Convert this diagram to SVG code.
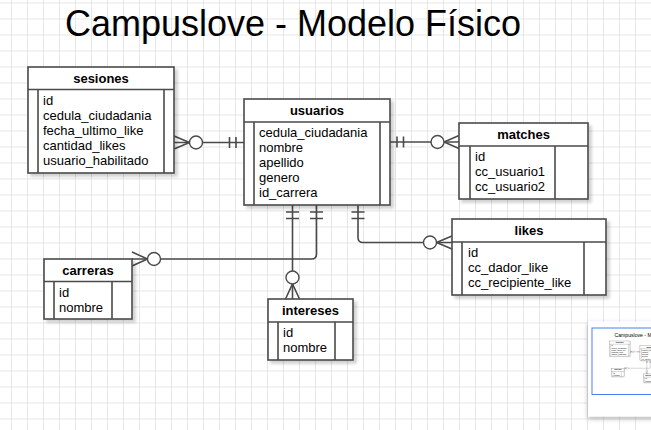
<svg xmlns="http://www.w3.org/2000/svg" xmlns:xlink="http://www.w3.org/1999/xlink" width="651" height="430" viewBox="0 0 651 430">
<style>
.box{fill:#ffffff;stroke:#4a4a4a;stroke-width:1.6}
.ln{fill:none;stroke:#4a4a4a;stroke-width:1.6}
.cl{fill:#ffffff;stroke:#4a4a4a;stroke-width:1.4}
.hd{font-family:"Liberation Sans",Arial,sans-serif;font-size:13px;font-weight:bold;fill:#000;text-anchor:middle}
.rw{font-family:"Liberation Sans",Arial,sans-serif;font-size:13px;fill:#000}
.ttl{font-family:"Liberation Sans",Arial,sans-serif;font-size:36px;fill:#000;text-anchor:middle}
</style>
<defs>
<pattern id="grid" patternUnits="userSpaceOnUse" x="11" y="2.5" width="16" height="16">
<path d="M0.5 0V16M0 0.5H16" stroke="#e6e6e6" stroke-width="1" fill="none"/>
</pattern>
<filter id="sh" x="-10%" y="-10%" width="130%" height="130%">
<feDropShadow dx="3" dy="3" stdDeviation="1.5" flood-color="#000" flood-opacity="0.18"/>
</filter>
<filter id="psh" x="-20%" y="-20%" width="140%" height="140%">
<feDropShadow dx="0" dy="2" stdDeviation="2.5" flood-color="#000" flood-opacity="0.3"/>
</filter>
<clipPath id="mini"><rect x="588" y="321.5" width="63" height="95"/></clipPath>
</defs>
<rect width="651" height="430" fill="#ffffff"/>
<rect width="651" height="430" fill="url(#grid)"/>
<g id="content">
<text class="ttl" x="293" y="36">Campuslove - Modelo Físico</text>
<g id="connectors">
<path class="ln" d="M174 142.5H244"/>
<path class="ln" d="M174 136L189.5 142.5L174 149M229.5 137V148M236 137V148"/>
<circle class="cl" cx="196" cy="142.5" r="6.5"/>
<path class="ln" d="M390 142H459"/>
<path class="ln" d="M397 136.5V147.5M403.5 136.5V147.5M459 135.5L444 142L459 148.5"/>
<circle class="cl" cx="437.5" cy="142" r="6.5"/>
<path class="ln" d="M316.5 205V254Q316.5 259 311.5 259H132"/>
<path class="ln" d="M310 212H323M310 218.5H323M132 252L147.5 259L132 266"/>
<circle class="cl" cx="154" cy="259" r="6.5"/>
<path class="ln" d="M292.5 205V299"/>
<path class="ln" d="M286 212H299M286 218.5H299M285.5 299L292.5 284L299.5 299"/>
<circle class="cl" cx="292.5" cy="277.5" r="6.5"/>
<path class="ln" d="M358 205V237.5Q358 242.5 363 242.5H452"/>
<path class="ln" d="M351.5 212H364.5M351.5 218.5H364.5M452 236L436.5 242.5L452 249"/>
<circle class="cl" cx="430" cy="242.5" r="6.5"/>
</g>
<g id="sesiones">
<rect class="box" x="28" y="67" width="146" height="106" filter="url(#sh)"/>
<path class="ln" d="M28 89.5H174M38 89.5V173M164 89.5V173"/>
<text class="hd" x="101" y="82.5">sesiones</text>
<text class="rw" x="43" y="105.4"><tspan x="43">id</tspan><tspan x="43" dy="15">cedula_ciudadania</tspan><tspan x="43" dy="15">fecha_ultimo_like</tspan><tspan x="43" dy="15">cantidad_likes</tspan><tspan x="43" dy="15">usuario_habilitado</tspan></text>
</g>
<g id="usuarios">
<rect class="box" x="244" y="99" width="146" height="106" filter="url(#sh)"/>
<path class="ln" d="M244 122H390M254 122V205M380 122V205"/>
<text class="hd" x="317" y="114.5">usuarios</text>
<text class="rw" x="259" y="137.4"><tspan x="259">cedula_ciudadania</tspan><tspan x="259" dy="15">nombre</tspan><tspan x="259" dy="15">apellido</tspan><tspan x="259" dy="15">genero</tspan><tspan x="259" dy="15">id_carrera</tspan></text>
</g>
<g id="matches">
<rect class="box" x="459" y="123" width="129" height="76" filter="url(#sh)"/>
<path class="ln" d="M459 146H588M470 146V199M555 146V199"/>
<text class="hd" x="523.5" y="138.5">matches</text>
<text class="rw" x="475" y="161.4"><tspan x="475">id</tspan><tspan x="475" dy="15">cc_usuario1</tspan><tspan x="475" dy="15">cc_usuario2</tspan></text>
</g>
<g id="carreras">
<rect class="box" x="44" y="259" width="88" height="60" filter="url(#sh)"/>
<path class="ln" d="M44 281.5H132M54 281.5V319M112 281.5V319"/>
<text class="hd" x="88" y="274.5">carreras</text>
<text class="rw" x="59" y="297.4"><tspan x="59">id</tspan><tspan x="59" dy="15">nombre</tspan></text>
</g>
<g id="intereses">
<rect class="box" x="268" y="299" width="85" height="61" filter="url(#sh)"/>
<path class="ln" d="M268 322H353M278 322V360M335 322V360"/>
<text class="hd" x="310.5" y="314.5">intereses</text>
<text class="rw" x="283" y="337.4"><tspan x="283">id</tspan><tspan x="283" dy="15">nombre</tspan></text>
</g>
<g id="likes">
<rect class="box" x="452" y="219" width="154" height="76" filter="url(#sh)"/>
<path class="ln" d="M452 242H606M462 242V295M584 242V295"/>
<text class="hd" x="529" y="234.5">likes</text>
<text class="rw" x="468" y="257.2"><tspan x="468">id</tspan><tspan x="468" dy="15">cc_dador_like</tspan><tspan x="468" dy="15">cc_recipiente_like</tspan></text>
</g>
</g>
<g id="outline">
<rect x="588" y="321.5" width="70" height="95" fill="#ffffff" filter="url(#psh)"/>
<g clip-path="url(#mini)">
<use xlink:href="#content" href="#content" transform="translate(605.3,331.5) scale(0.142)"/>
<rect x="592" y="328" width="80" height="66.5" fill="none" stroke="#4a7ef0" stroke-width="1"/>
</g>
</g>
</svg>
